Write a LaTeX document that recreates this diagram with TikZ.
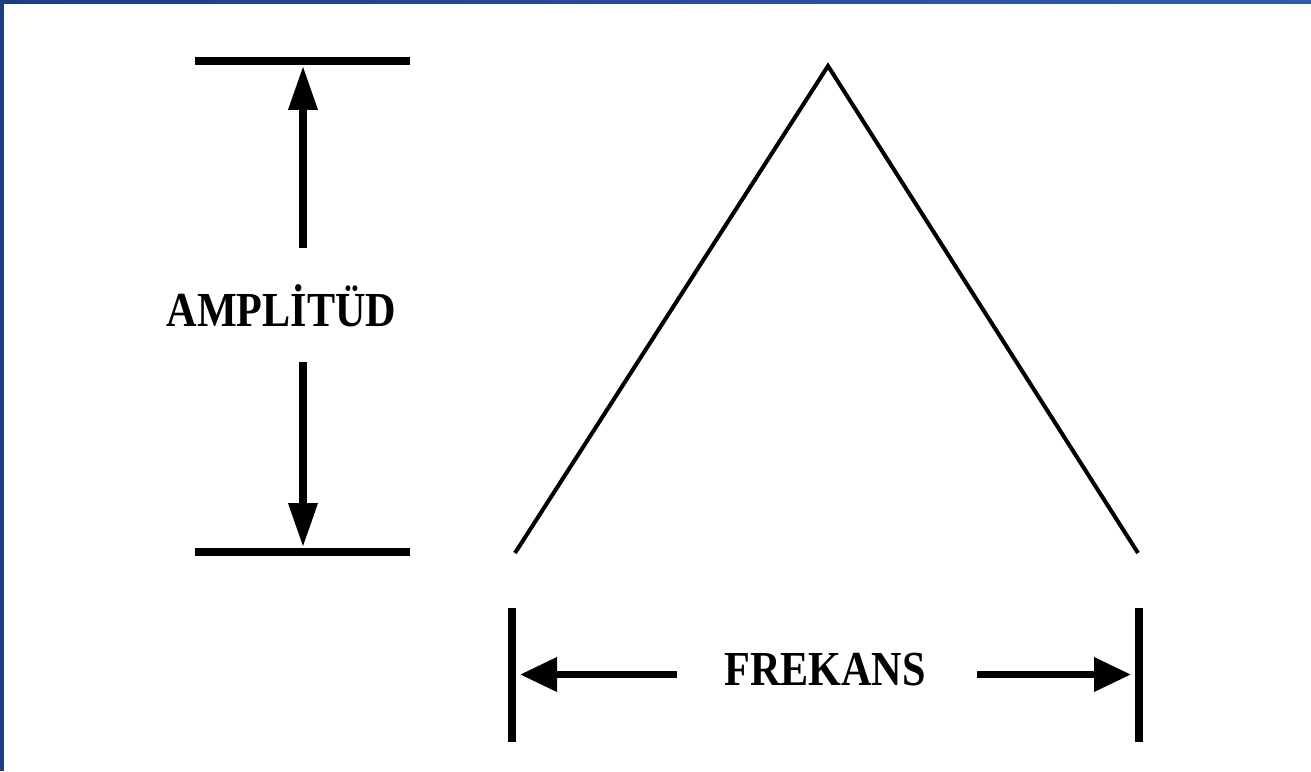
\documentclass[tikz,border=0pt]{standalone}
\usepackage{fontspec}
\setmainfont{Liberation Serif}
\usetikzlibrary{arrows.meta}
\definecolor{cadre}{RGB}{30,62,128}
\definecolor{cadreclair}{RGB}{52,92,160}
\tikzset{
  barre/.style={line width=4.4pt},
  cote/.style={line width=4.2pt},
  flechev/.style={line width=4pt,-{Triangle[length=0.88cm,width=0.56cm]}},
  flecheh/.style={line width=4pt,-{Triangle[length=0.74cm,width=0.66cm]}},
  etiquette/.style={font=\fontsize{24}{28}\selectfont\bfseries,inner sep=0pt,anchor=base,yscale=1.16}
}
\begin{document}
\begin{tikzpicture}[x=0.02cm,y=-0.02cm]
  \useasboundingbox (0,0) rectangle (1311,771);
  \fill[cadre] (0,0) rectangle (4,771); %bord gauche
  \shade[left color=cadre,right color=cadreclair] (0,0) rectangle (1311,3); %bord haut
  % amplitude
  \coordinate (haut) at (303,66);
  \coordinate (bas) at (303,547);
  \draw[barre] (195,61) -- (410,61); %barre haute
  \draw[barre] (195,552) -- (410,552); %barre basse
  \node[etiquette] (ampl) at (281.5,326) {AMPLİTÜD};
  \draw[flechev] (303,248) -- (haut);
  \draw[flechev] (303,362) -- (bas);
  % triangle
  \coordinate (g) at (515,553);
  \coordinate (s) at (828,66);
  \coordinate (d) at (1138,553);
  \draw[line width=2.3pt] (g) -- (s) -- (d); %Triangle
  % frequence
  \draw[cote] (512,608) -- (512,742); %Cote gauche
  \draw[cote] (1139,608) -- (1139,742); %Cote droit
  \coordinate (fg) at (520,674.5);
  \coordinate (fd) at (1131,674.5);
  \node[etiquette] (freq) at (825,685) {FREKANS};
  \draw[flecheh] (677,674.5) -- (fg);
  \draw[flecheh] (977,674.5) -- (fd);
\end{tikzpicture}
\end{document}
